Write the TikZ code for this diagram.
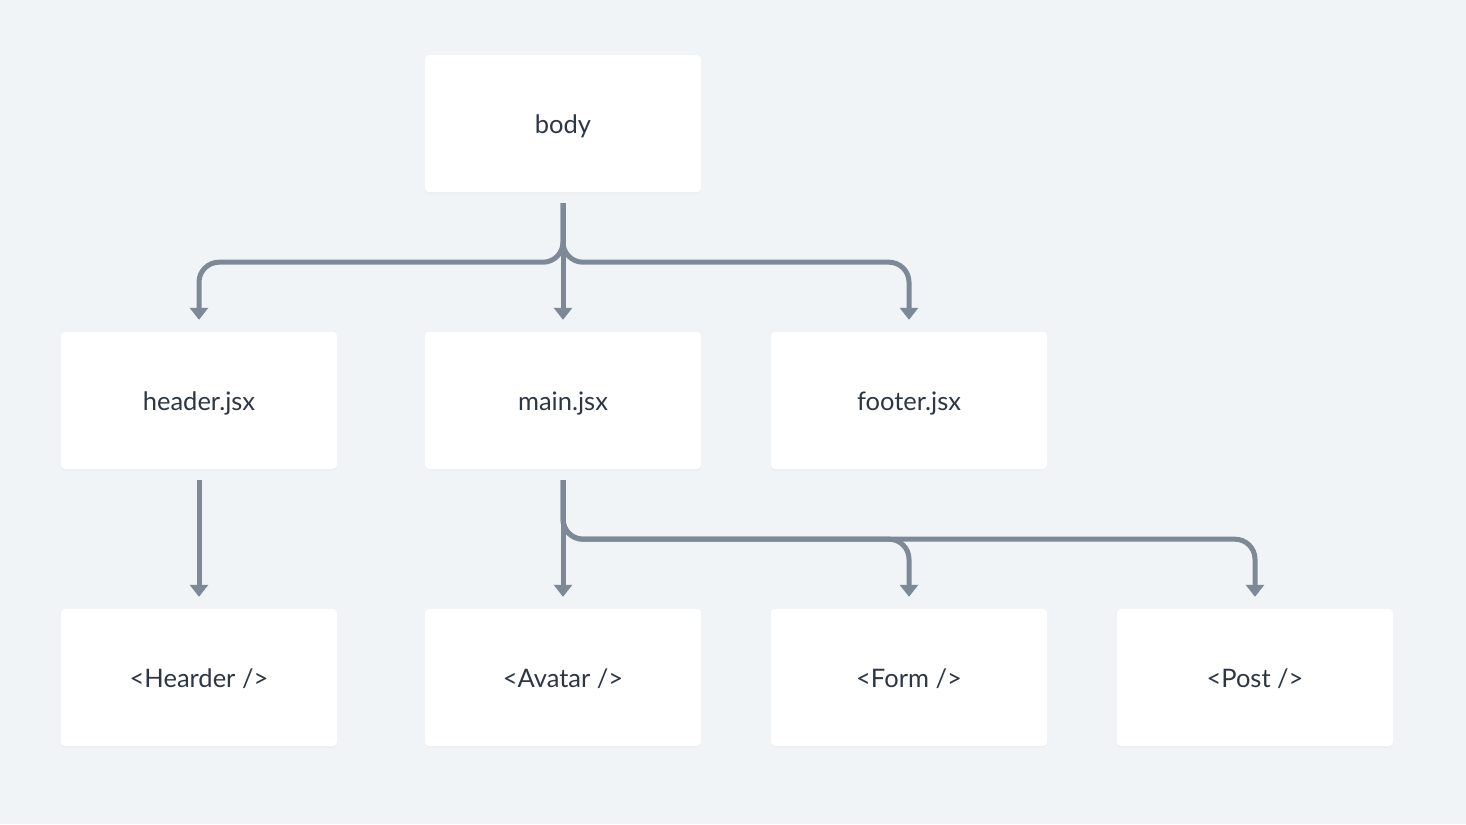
\documentclass[tikz,border=0pt]{standalone}
\usepackage{fontspec}
\setmainfont{Lato}
\usetikzlibrary{arrows.meta,shadows}
\definecolor{bg}{HTML}{F1F4F7}
\definecolor{linec}{HTML}{7E8997}
\definecolor{txt}{HTML}{2D3744}
\tikzset{
  card/.style={fill=white, rounded corners=4pt, minimum width=276pt, minimum height=137pt,
    inner sep=0pt, text=txt, font=\fontsize{25.5}{30}\selectfont,
    text height=19pt, text depth=0pt,
    drop shadow={opacity=0.04, shadow xshift=0pt, shadow yshift=-2pt}},
  conn/.style={draw=linec, line width=5pt, rounded corners=20pt,
    -{Triangle[width=18pt,length=12pt]}, shorten <=11pt, shorten >=12pt}
}
\begin{document}
\begin{tikzpicture}[x=1pt,y=-1pt]
\fill[bg] (0,0) rectangle (1466,824);
\useasboundingbox (0,0) rectangle (1466,824);
\node[card] (body) at (563,123.5) {body};
\node[card] (header) at (199,400.5) {header.jsx};
\node[card] (main) at (563,400.5) {main.jsx};
\node[card] (footer) at (909,400.5) {footer.jsx};
\node[card] (hearder) at (199,677.5) {<Hearder />};
\node[card] (avatar) at (563,677.5) {<Avatar />};
\node[card] (form) at (909,677.5) {<Form />};
\node[card] (post) at (1255,677.5) {<Post />};
\draw[conn] (body.south) -- ++(0,70) -| (header.north);
\draw[conn] (body.south) -- (main.north);
\draw[conn] (body.south) -- ++(0,70) -| (footer.north);
\draw[conn] (header.south) -- (hearder.north);
\draw[conn] (main.south) -- (avatar.north);
\draw[conn] (main.south) -- ++(0,70) -| (form.north);
\draw[conn] (main.south) -- ++(0,70) -| (post.north);
\end{tikzpicture}
\end{document}
